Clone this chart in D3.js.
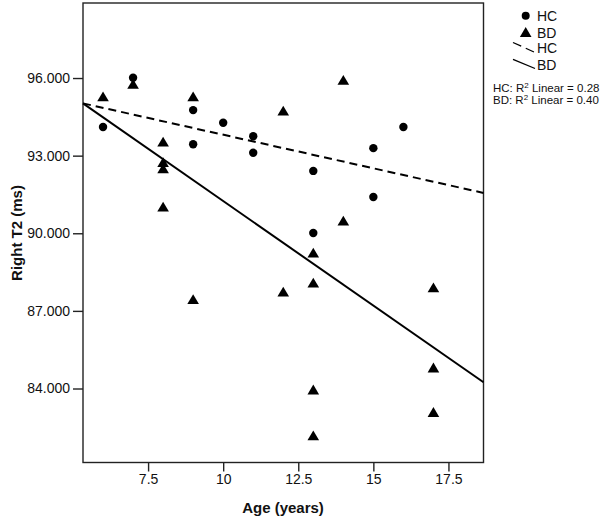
<!DOCTYPE html>
<html>
<head>
<meta charset="utf-8">
<script src="https://cdn.jsdelivr.net/npm/d3@7"></script>
<style>
  html, body { margin: 0; padding: 0; background: #fff; }
  svg { display: block; font-family: "Liberation Sans", Arial, sans-serif; }
</style>
</head>
<body>
<svg id="chart" width="603" height="519"></svg>
<script>
// ---- Data ----
const hcAge   = [6, 7, 9, 9, 10, 11, 11, 13, 13, 15, 15, 16];
const hcT2    = [94.11, 96.01, 94.76, 93.44, 94.27, 93.75, 93.11, 92.41, 90.01, 93.29, 91.40, 94.11];
const bdAge   = [6, 7, 8, 8, 8, 8, 9, 9, 12, 12, 13, 13, 13, 13, 14, 14, 17, 17, 17];
const bdT2    = [95.28, 95.76, 93.53, 92.74, 92.50, 91.02, 95.28, 87.44, 94.73, 87.73,
                 89.24, 88.08, 83.95, 82.18, 95.92, 90.48, 87.90, 84.80, 83.08];
// fit lines (endpoints)
const hcFitAge = [5.333, 18.667];
const hcFitT2  = [95.02, 91.56];
const bdFitAge = [5.333, 18.667];
const bdFitT2  = [95.02, 84.24];
const xTicks = [7.5, 10, 12.5, 15, 17.5];
const yTicks = [84, 87, 90, 93, 96];
const legendLabels = ["HC", "BD", "HC", "BD"];
const r2Labels = [["HC", "0.28"], ["BD", "0.40"]];

const svg = d3.select("#chart");
const pLeft = 83, pRight = 483.5, pTop = 3, pBottom = 462.5;

const x = d3.scaleLinear().domain([5.333, 18.667]).range([pLeft, pRight]);
const y = d3.scaleLinear().domain([81.14, 98.90]).range([pBottom, pTop]);

// frame
svg.append("rect")
  .attr("x", pLeft).attr("y", pTop)
  .attr("width", pRight - pLeft).attr("height", pBottom - pTop)
  .attr("fill", "none").attr("stroke", "#222").attr("stroke-width", 1.4);

// axes
const yAxis = d3.axisLeft(y).tickValues(yTicks).tickSize(10).tickPadding(3)
  .tickFormat(v => d3.format(".0f")(v) + ".000");
const xAxis = d3.axisBottom(x).tickValues(xTicks).tickSize(9).tickPadding(3)
  .tickFormat(v => (Number.isInteger(v) ? String(v) : d3.format(".1f")(v)));

const gy = svg.append("g").attr("transform", `translate(${pLeft},0)`).call(yAxis);
const gx = svg.append("g").attr("transform", `translate(0,${pBottom})`).call(xAxis);
[gy, gx].forEach(g => {
  g.select(".domain").remove();
  g.selectAll(".tick line").attr("stroke", "#222").attr("stroke-width", 1.4);
  g.selectAll(".tick text").attr("fill", "#111")
    .style("font-family", '"Liberation Sans", Arial, sans-serif').style("font-size", "14px");
});

// axis titles
svg.append("text")
  .attr("x", 283).attr("y", 513)
  .attr("text-anchor", "middle")
  .style("font-size", "15px").style("font-weight", "bold").attr("fill", "#111")
  .text("Age (years)");
svg.append("text")
  .attr("transform", "translate(22,233) rotate(-90)")
  .attr("text-anchor", "middle")
  .style("font-size", "15px").style("font-weight", "bold").attr("fill", "#111")
  .text("Right T2 (ms)");

// fit lines
const line = d3.line().x(d => x(d[0])).y(d => y(d[1]));
svg.append("path")
  .datum(hcFitAge.map((a, i) => [a, hcFitT2[i]]))
  .attr("d", line).attr("fill", "none").attr("stroke", "#000")
  .attr("stroke-width", 2).attr("stroke-dasharray", "8,5");
svg.append("path")
  .datum(bdFitAge.map((a, i) => [a, bdFitT2[i]]))
  .attr("d", line).attr("fill", "none").attr("stroke", "#000")
  .attr("stroke-width", 2);

// markers
const triPath = (cx, cy) => `M${cx},${cy - 5.2}L${cx + 5.8},${cy + 4.6}L${cx - 5.8},${cy + 4.6}Z`;

svg.append("g").selectAll("circle")
  .data(hcAge.map((a, i) => [a, hcT2[i]]))
  .join("circle")
  .attr("cx", d => x(d[0])).attr("cy", d => y(d[1]))
  .attr("r", 4.2).attr("fill", "#000");

svg.append("g").selectAll("path")
  .data(bdAge.map((a, i) => [a, bdT2[i]]))
  .join("path")
  .attr("d", d => triPath(x(d[0]), y(d[1])))
  .attr("fill", "#000");

// legend
const lg = svg.append("g");
lg.append("circle").attr("cx", 525.7).attr("cy", 15.7).attr("r", 4).attr("fill", "#000");
lg.append("path").attr("d", triPath(525.7, 32.3)).attr("fill", "#000");
lg.append("line").attr("x1", 513).attr("y1", 42.5).attr("x2", 534).attr("y2", 52)
  .attr("stroke", "#000").attr("stroke-width", 1.3).attr("stroke-dasharray", "9,5");
lg.append("line").attr("x1", 513).attr("y1", 59.3).attr("x2", 535).attr("y2", 68.5)
  .attr("stroke", "#000").attr("stroke-width", 1.3);
const legY = [21, 37.5, 53, 69.5];
legendLabels.forEach((t, i) => {
  lg.append("text").attr("x", 537).attr("y", legY[i])
    .style("font-size", "14px").attr("fill", "#111").text(t);
});
r2Labels.forEach((d, i) => {
  const t = lg.append("text").attr("x", 493).attr("y", 92 + i * 11.5)
    .style("font-size", "11.5px").attr("fill", "#111");
  t.append("tspan").text(d[0] + ": R");
  t.append("tspan").attr("dy", -4).style("font-size", "8px").text("2");
  t.append("tspan").attr("dy", 4).text(" Linear = " + d[1]);
});
</script>
</body>
</html>
